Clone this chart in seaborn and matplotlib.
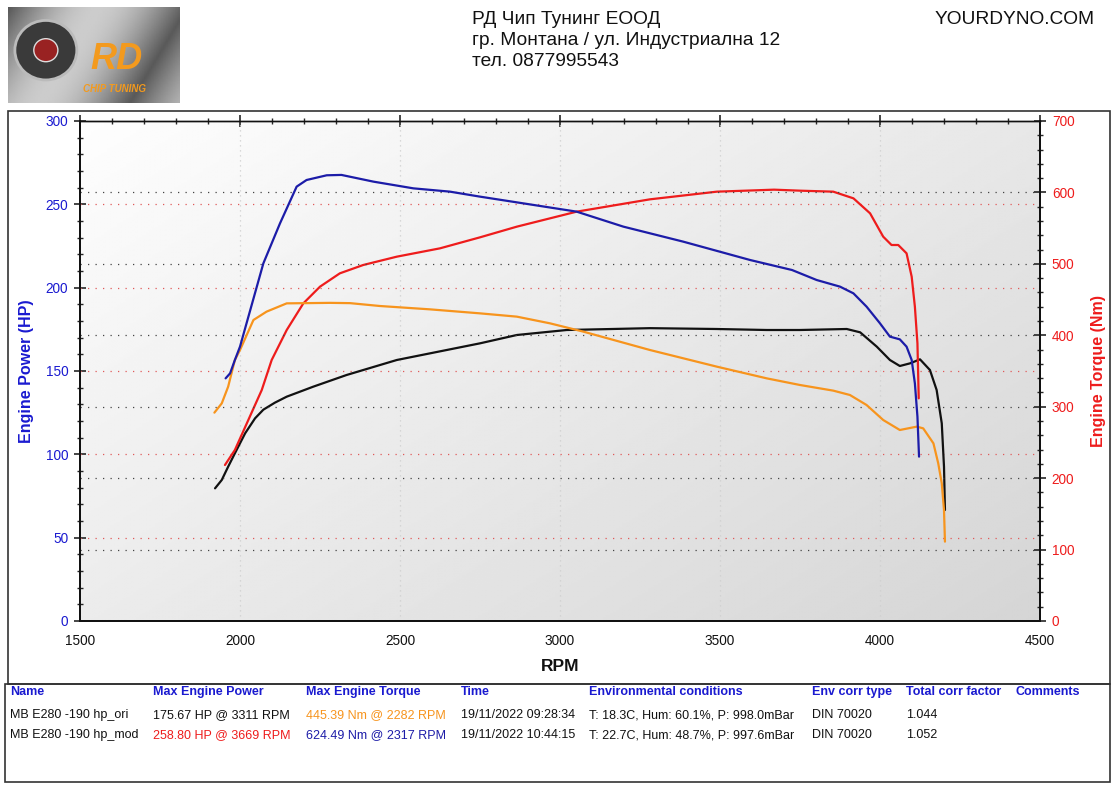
import numpy as np
import pandas as pd
import matplotlib
matplotlib.use("Agg")
import matplotlib.pyplot as plt
import seaborn as sns
from matplotlib.patches import Rectangle, Ellipse
from matplotlib.ticker import MultipleLocator

# ---- data ----
# original map, power (HP)
rpm_ori_power = [1922, 1943, 1963, 1984, 2016, 2047, 2073, 2109, 2146, 2229, 2333, 2490, 2646,
                 2750, 2865, 3021, 3281, 3490, 3646, 3750, 3896, 3938, 3990, 4031, 4062, 4094,
                 4125, 4156, 4177, 4193, 4200, 4203]
hp_ori = [79.6, 84.6, 92.6, 100.6, 112.6, 121.6, 126.8, 131.0, 134.6, 140.6, 147.6, 156.6, 162.6,
          166.6, 171.6, 174.6, 175.7, 175.2, 174.6, 174.6, 175.2, 173.2, 164.6, 156.6, 153.0, 154.6,
          157.0, 150.6, 138.6, 118.6, 92.6, 66.6]

# original map, torque (Nm)
rpm_ori_torque = [1920, 1943, 1963, 1984, 2000, 2042, 2083, 2146, 2282, 2344, 2437, 2594, 2750,
                  2865, 2969, 3073, 3281, 3490, 3646, 3750, 3854, 3906, 3958, 4010, 4062, 4115,
                  4135, 4167, 4182, 4193, 4200, 4203]
nm_ori = [291.7, 304.7, 328.1, 365.4, 379.4, 421.4, 433.1, 444.7, 445.4, 445.0, 441.0, 436.3, 430.7,
          426.1, 416.7, 405.1, 379.4, 356.1, 339.7, 330.4, 322.5, 316.4, 302.4, 281.4, 267.4, 272.1,
          269.7, 248.7, 220.7, 192.7, 155.4, 111.1]

# modified map, power (HP)
rpm_mod_power = [1953, 1984, 2026, 2068, 2099, 2146, 2198, 2250, 2312, 2385, 2490, 2625, 2750,
                 2865, 3052, 3281, 3490, 3669, 3750, 3854, 3917, 3969, 4010, 4036, 4057, 4083,
                 4099, 4109, 4117, 4121]
hp_mod = [93.6, 102.6, 120.6, 138.6, 156.6, 174.6, 190.6, 200.6, 208.6, 213.6, 218.6, 223.6, 230.2,
          236.6, 245.6, 253.0, 257.6, 258.8, 258.2, 257.6, 253.6, 244.6, 230.6, 225.6, 225.6, 220.6,
          206.6, 188.6, 166.6, 133.6]

# modified map, torque (Nm)
rpm_mod_torque = [1955, 1969, 1984, 2000, 2073, 2125, 2177, 2208, 2271, 2317, 2417, 2542, 2656,
                  2750, 3052, 3198, 3385, 3594, 3725, 3802, 3875, 3917, 3958, 4000, 4031, 4062,
                  4083, 4099, 4109, 4117, 4122]
nm_mod = [339.7, 346.7, 365.4, 384.1, 500.7, 556.7, 608.1, 617.4, 624.0, 624.5, 615.1, 605.7, 601.1,
          594.1, 573.1, 552.1, 531.1, 505.4, 491.4, 477.4, 468.1, 458.7, 440.1, 416.7, 398.1, 394.3,
          384.1, 365.4, 332.7, 286.1, 230.1]

table_header = ["Name", "Max Engine Power", "Max Engine Torque", "Time",
                "Environmental conditions", "Env corr type", "Total corr factor", "Comments"]
table_rows = [
    ["MB E280 -190 hp_ori", "175.67 HP @ 3311 RPM", "445.39 Nm @ 2282 RPM", "19/11/2022 09:28:34",
     "T: 18.3C, Hum: 60.1%, P: 998.0mBar", "DIN 70020", "1.044", ""],
    ["MB E280 -190 hp_mod", "258.80 HP @ 3669 RPM", "624.49 Nm @ 2317 RPM", "19/11/2022 10:44:15",
     "T: 22.7C, Hum: 48.7%, P: 997.6mBar", "DIN 70020", "1.052", ""],
]

BLUE = "#1c1ca8"
RED = "#ee1c1c"
ORANGE = "#f7941d"
BLACK = "#111111"
LBLUE = "#1a1ad0"

sns.set_style("white")
plt.rcParams["font.family"] = ["Liberation Sans", "DejaVu Sans"]

W, H = 1118, 788
fig = plt.figure(figsize=(W / 100, H / 100), dpi=100)

# frames
fig.add_artist(Rectangle((8 / W, 1 - 684 / H), 1102 / W, 573 / H, transform=fig.transFigure,
                         fill=False, edgecolor="#333333", lw=1.2))
fig.add_artist(Rectangle((5 / W, 1 - 782 / H), 1105 / W, 98 / H, transform=fig.transFigure,
                         fill=False, edgecolor="#333333", lw=1.2))

# header
hdr = dict(fontsize=13.8, color="#111111", va="baseline")
fig.text(472 / W, 1 - 24 / H, "РД Чип Тунинг ЕООД", **hdr)
fig.text(472 / W, 1 - 45 / H, "гр. Монтана / ул. Индустриална 12", **hdr)
fig.text(472 / W, 1 - 66 / H, "тел. 0877995543", **hdr)
fig.text(1095 / W, 1 - 24 / H, "YOURDYNO.COM", ha="right", **hdr)

# logo block
lax = fig.add_axes([8 / W, 1 - 103 / H, 172 / W, 96 / H])
gx, gy = np.meshgrid(np.linspace(0, 1, 100), np.linspace(0, 1, 60))
lax.imshow(0.35 + 0.45 * np.abs(np.sin(gx * 3.0 + gy)), cmap="gray", vmin=0, vmax=1,
           extent=[0, 1, 0, 1], aspect="auto")
lax.add_patch(Ellipse((0.22, 0.55), 0.36, 0.62, facecolor="#3a3a3a", edgecolor="#bbbbbb", lw=2))
lax.add_patch(Ellipse((0.22, 0.55), 0.14, 0.24, facecolor="#992222", edgecolor="#dddddd", lw=1))
lax.text(0.63, 0.45, "RD", color="#f39a1e", fontsize=26, fontweight="bold", ha="center",
         va="center", style="italic")
lax.text(0.62, 0.15, "CHIP TUNING", color="#f39a1e", fontsize=7, fontweight="bold", ha="center",
         va="center", style="italic")
lax.set_xlim(0, 1)
lax.set_ylim(0, 1)
lax.axis("off")

# main chart
ax = fig.add_axes([80 / W, 1 - 621 / H, 960 / W, 500 / H])
ax2 = ax.twinx()

gx, gy = np.meshgrid(np.linspace(0, 1, 300), np.linspace(0, 1, 300))
shade = 0.995 - 0.16 * (0.55 * gx + 0.45 * gy)
ax.imshow(shade, cmap="gray", vmin=0, vmax=1, extent=[1500, 4500, 0, 300], aspect="auto",
          zorder=0, interpolation="bilinear")

ax.set_xlim(1500, 4500)
ax.set_ylim(0, 300)
ax2.set_ylim(0, 700)

for v in range(2000, 4500, 500):
    ax.axvline(v, color="#cfcfcf", lw=0.9, ls=(0, (1, 3)), zorder=1)
for v in range(50, 300, 50):
    ax.axhline(v, color="#e05a5a", lw=0.9, ls=(0, (1, 5)), zorder=1)
for v in range(100, 700, 100):
    ax2.axhline(v, color="#444444", lw=0.9, ls=(0, (1, 5)), zorder=1)

power = pd.concat([
    pd.DataFrame({"rpm": rpm_ori_power, "val": hp_ori, "run": "ori"}),
    pd.DataFrame({"rpm": rpm_mod_power, "val": hp_mod, "run": "mod"}),
])
torque = pd.concat([
    pd.DataFrame({"rpm": rpm_ori_torque, "val": nm_ori, "run": "ori"}),
    pd.DataFrame({"rpm": rpm_mod_torque, "val": nm_mod, "run": "mod"}),
])

sns.lineplot(data=power, x="rpm", y="val", hue="run", palette={"ori": BLACK, "mod": RED},
             sort=False, estimator=None, lw=1.6, legend=False, ax=ax, zorder=3)
sns.lineplot(data=torque, x="rpm", y="val", hue="run", palette={"ori": ORANGE, "mod": BLUE},
             sort=False, estimator=None, lw=1.6, legend=False, ax=ax2, zorder=3)

ax.xaxis.set_major_locator(MultipleLocator(500))
ax.xaxis.set_minor_locator(MultipleLocator(100))
ax.yaxis.set_major_locator(MultipleLocator(50))
ax.yaxis.set_minor_locator(MultipleLocator(10))
ax2.yaxis.set_major_locator(MultipleLocator(100))
ax2.yaxis.set_minor_locator(MultipleLocator(20))

ax.tick_params(axis="both", which="major", direction="inout", length=9, width=1.2, labelsize=9.8)
ax.tick_params(axis="both", which="minor", direction="inout", length=5, width=1.0)
ax.tick_params(axis="x", which="both", top=True, labelcolor="#111111", pad=5)
ax.tick_params(axis="y", labelcolor=LBLUE, pad=4)
ax2.tick_params(axis="y", which="major", direction="inout", length=9, width=1.2, labelsize=9.8,
                labelcolor=RED, pad=4)
ax2.tick_params(axis="y", which="minor", direction="inout", length=5, width=1.0)

for a in (ax, ax2):
    for s in a.spines.values():
        s.set_color("#111111")
        s.set_linewidth(1.4)
    a.spines["top"].set_linewidth(1.0)
    a.grid(False)

ax.set_xlabel("RPM", fontsize=12.5, fontweight="bold", color="#111111", labelpad=8)
ax.set_ylabel("Engine Power (HP)", fontsize=11.5, fontweight="bold", color=LBLUE, labelpad=8)
ax2.set_ylabel("Engine Torque (Nm)", fontsize=11.5, fontweight="bold", color=RED, labelpad=12)

# results table
cols_x = [10, 153, 306, 461, 589, 812, 906, 1016]
for x, t in zip(cols_x, table_header):
    fig.text(x / W, 1 - 695 / H, t, fontsize=9, fontweight="bold", color=LBLUE, va="baseline")
row_y = [718, 738]
row_colors = [
    [BLACK, BLACK, ORANGE, BLACK, BLACK, BLACK, BLACK, BLACK],
    [BLACK, RED, BLUE, BLACK, BLACK, BLACK, BLACK, BLACK],
]
for y, row, colors in zip(row_y, table_rows, row_colors):
    for x, t, c in zip(cols_x, row, colors):
        fig.text(x / W, 1 - y / H, t, fontsize=9, color=c, va="baseline")

fig.savefig("out.png", dpi=100)
